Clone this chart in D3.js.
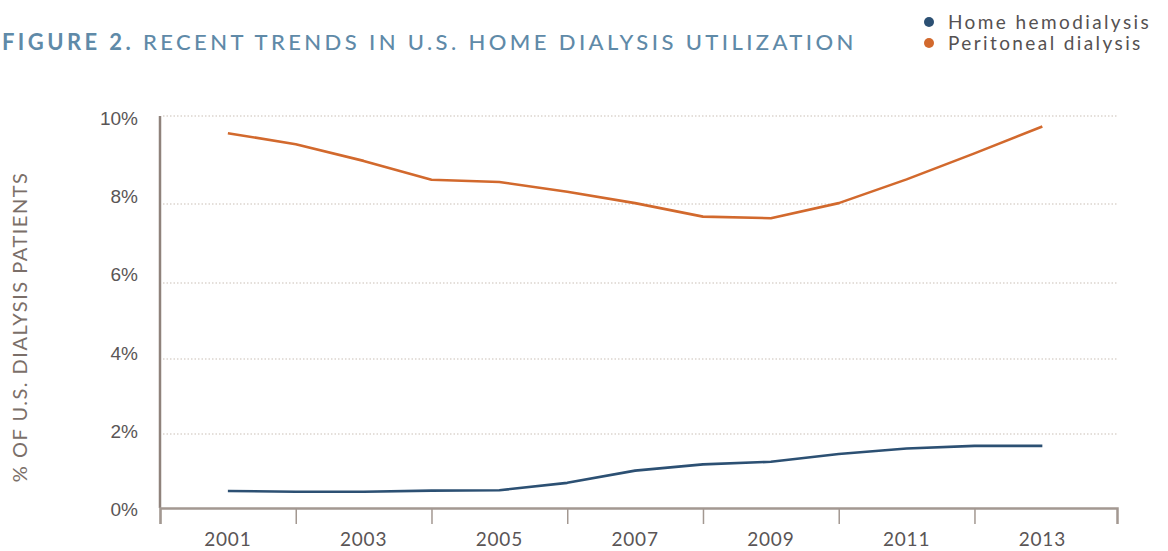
<!DOCTYPE html>
<html>
<head>
<meta charset="utf-8">
<script src="https://cdn.jsdelivr.net/npm/d3@7"></script>
<style>
    body { margin: 0; background: #fff; }
    svg { display: block; font-family: Lato, 'Open Sans', sans-serif; }
    .grid line { stroke: #c9bfb6; stroke-width: 1.2; stroke-dasharray: 1.5, 2; }
    .tick-label { fill: #5a5556; font-size: 19px; }
</style>
</head>
<body>
<div id="chart"></div>
<script>
// values (% of U.S. dialysis patients)
const years = [2001, 2002, 2003, 2004, 2005, 2006, 2007, 2008, 2009, 2010, 2011, 2012, 2013];
const homeHemo = [0.46, 0.44, 0.44, 0.47, 0.48, 0.68, 1.01, 1.18, 1.25, 1.46, 1.61, 1.68, 1.68];
const peritoneal = [9.61, 9.36, 8.98, 8.55, 8.5, 8.28, 8.02, 7.68, 7.64, 8.02, 8.56, 9.15, 9.76];
const seriesNames = ['Home hemodialysis', 'Peritoneal dialysis'];
const yTicks = [0, 2, 4, 6, 8, 10];
const xTicks = [2000, 2002, 2004, 2006, 2008, 2010, 2012];
const xLabels = [2001, 2003, 2005, 2007, 2009, 2011, 2013];

const COLORS = ['#2c5073', '#d2692d'];

const width = 1168;
const height = 551;

const svg = d3
    .select('#chart')
    .append('svg')
    .attr('width', width)
    .attr('height', height);

// the grid in the original is not evenly spaced, so the scale follows it piecewise
const yScale = d3
    .scaleLinear()
    .domain(yTicks)
    .range([508, 434, 359, 283, 204, 116]);

// tick labels sit evenly spaced
const yLabelScale = d3.scaleLinear().domain([0, 10]).range([509, 117.5]);

const xScale = d3.scaleLinear().domain([2000, 2014.1]).range([160, 1117]);

// gridlines
svg.append('g')
    .attr('class', 'grid')
    .selectAll('line')
    .data(yTicks.slice(1))
    .enter()
    .append('line')
    .attr('x1', xScale.range()[0] + 3)
    .attr('x2', xScale.range()[1])
    .attr('y1', (d) => yScale(d))
    .attr('y2', (d) => yScale(d));

// y labels
const yAxis = d3
    .axisLeft(yLabelScale)
    .tickValues(yTicks)
    .tickSize(0)
    .tickPadding(0)
    .tickFormat((d) => d + '%');
svg.append('g')
    .attr('transform', 'translate(138,0)')
    .call(yAxis)
    .call((g) => g.select('.domain').remove())
    .selectAll('text')
    .attr('class', 'tick-label')
    .attr('dy', '0.36em');

// y axis line
svg.append('line')
    .attr('x1', xScale.range()[0])
    .attr('x2', xScale.range()[0])
    .attr('y1', yScale(0))
    .attr('y2', yScale(10))
    .attr('stroke', '#8f827b')
    .attr('stroke-width', 2.5);

// x axis
const xAxis = d3
    .axisBottom(xScale)
    .tickValues(xTicks)
    .tickSizeInner(16)
    .tickSizeOuter(16)
    .tickFormat('');
svg.append('g')
    .attr('transform', 'translate(0,' + yScale(0) + ')')
    .call(xAxis)
    .call((g) => g.select('.domain').attr('stroke', '#a39891').attr('stroke-width', 2.5))
    .call((g) => g.selectAll('.tick line').attr('stroke', '#a39891').attr('stroke-width', 1.5));

svg.append('g')
    .selectAll('text')
    .data(xLabels)
    .enter()
    .append('text')
    .attr('class', 'tick-label')
    .attr('x', (d) => xScale(d))
    .attr('y', 546)
    .attr('text-anchor', 'middle')
    .style('letter-spacing', '0.8px')
    .text((d) => d);

// y axis title
svg.append('text')
    .attr('transform', 'translate(27,327) rotate(-90)')
    .attr('text-anchor', 'middle')
    .attr('fill', '#7b6f69')
    .style('font-size', '20px')
    .style('letter-spacing', '1.5px')
    .text('% OF U.S. DIALYSIS PATIENTS');

// lines
const line = d3
    .line()
    .x((d) => xScale(d[0]))
    .y((d) => yScale(d[1]));

[homeHemo, peritoneal].forEach((values, i) => {
    svg.append('path')
        .datum(years.map((y, j) => [y, values[j]]))
        .attr('fill', 'none')
        .attr('stroke', COLORS[i])
        .attr('stroke-width', 2.6)
        .attr('stroke-linejoin', 'round')
        .attr('d', line);
});

// title
const title = svg
    .append('text')
    .attr('x', 2)
    .attr('y', 50)
    .attr('fill', '#5f8aa8')
    .style('font-size', '22px')
    .style('letter-spacing', '3.4px');
title.append('tspan').style('font-weight', 700).text('FIGURE 2.');
title.append('tspan').style('font-weight', 500).text(' RECENT TRENDS IN U.S. HOME DIALYSIS UTILIZATION');

// legend
const legend = svg
    .append('g')
    .selectAll('g')
    .data(seriesNames)
    .enter()
    .append('g')
    .attr('transform', (d, i) => 'translate(929,' + (22 + i * 21) + ')');
legend
    .append('circle')
    .attr('r', 5)
    .attr('fill', (d, i) => COLORS[i]);
legend
    .append('text')
    .attr('x', 19)
    .attr('y', 6.5)
    .attr('fill', '#555152')
    .style('font-size', '19px')
    .style('letter-spacing', '2.4px')
    .text((d) => d);
</script>
</body>
</html>
